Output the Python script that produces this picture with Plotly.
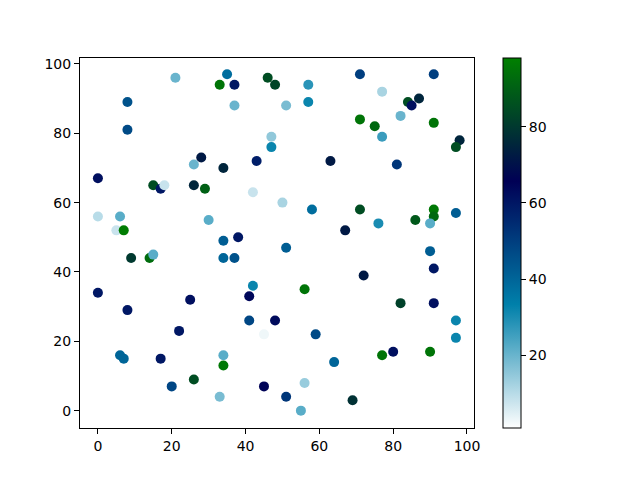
import plotly.graph_objects as go

# scatter points (x, y, colour value)
x_vals = [21, 35, 33, 37, 46, 48, 8, 37, 8, 47, 47, 28, 26, 34, 43, 0, 15, 17, 18, 26,
          29, 42, 50, 0, 6, 5, 7, 30, 34, 38, 57, 51, 57, 71, 91, 77, 84, 87, 85, 82,
          71, 75, 91, 77, 98, 97, 63, 81, 58, 71, 91, 91, 97, 86, 90, 76, 67, 51, 9, 14,
          15, 34, 37, 42, 0, 25, 41, 8, 41, 48, 22, 45, 6, 7, 17, 34, 34, 26, 20, 45,
          33, 90, 91, 72, 56, 82, 91, 97, 97, 59, 64, 77, 80, 90, 56, 51, 69, 55]
y_vals = [96, 97, 94, 94, 96, 94, 89, 88, 81, 79, 76, 73, 71, 70, 72, 67, 65, 64, 65, 65,
          64, 63, 60, 56, 56, 52, 52, 55, 49, 50, 94, 88, 89, 97, 97, 92, 89, 90, 88, 85,
          84, 82, 83, 79, 78, 76, 72, 71, 58, 58, 58, 56, 57, 55, 54, 54, 52, 47, 44, 44,
          45, 44, 44, 36, 34, 32, 33, 29, 26, 26, 23, 22, 16, 15, 15, 16, 13, 9, 7, 7,
          4, 46, 41, 39, 35, 31, 31, 26, 21, 22, 14, 16, 17, 17, 8, 4, 3, 0]
c_vals = [20, 38, 95, 60, 85, 83, 45, 20, 47, 15, 32, 72, 20, 75, 58, 62, 85, 60, 8, 75,
          90, 8, 12, 10, 22, 8, 97, 22, 42, 60, 28, 18, 32, 50, 50, 12, 85, 75, 62, 20,
          95, 92, 95, 26, 75, 85, 72, 52, 38, 85, 96, 92, 42, 88, 22, 30, 72, 42, 80, 93,
          22, 40, 45, 32, 60, 62, 64, 60, 48, 63, 60, 3, 40, 40, 60, 22, 96, 85, 48, 65,
          18, 42, 60, 72, 95, 82, 62, 32, 32, 47, 40, 95, 62, 95, 14, 52, 78, 22]

ticks = [0, 20, 40, 60, 80, 100]
cbar_ticks = [20, 40, 60, 80]


def ocean(s):
    r = min(max(3 * s - 2, 0), 1)
    g = min(abs((3 * s - 1) / 2), 1)
    b = s
    return f"rgb({round(r * 255)},{round(g * 255)},{round(b * 255)})"


# reversed 'ocean' colormap
n = 30
ocean_r = [[i / n, ocean(1 - i / n)] for i in range(n + 1)]

fig = go.Figure(
    go.Scatter(
        x=x_vals,
        y=y_vals,
        mode="markers",
        marker=dict(
            size=10,
            color=c_vals,
            colorscale=ocean_r,
            cmin=1,
            cmax=98,
            line=dict(width=0),
            colorbar=dict(
                x=1.073,
                xanchor="left",
                y=0.5,
                yanchor="middle",
                len=1,
                thickness=18,
                xpad=0,
                ypad=0,
                outlinecolor="black",
                outlinewidth=1,
                tickvals=cbar_ticks,
                ticks="outside",
                ticklen=5,
                tickcolor="black",
                tickfont=dict(size=14, color="black"),
            ),
        ),
        showlegend=False,
    )
)

axis_style = dict(
    showline=True,
    linecolor="black",
    linewidth=1,
    mirror=True,
    ticks="outside",
    ticklen=5,
    tickcolor="black",
    showgrid=False,
    zeroline=False,
    tickvals=ticks,
    tickfont=dict(size=14, color="black"),
)
fig.update_xaxes(range=[-4.85, 101.9], **axis_style)
fig.update_yaxes(range=[-5.0, 101.7], **axis_style)

# the page body adds an 8px offset, so margins are shifted to compensate
fig.update_layout(
    width=640,
    height=480,
    margin=dict(l=72, r=174, t=50, b=60),
    plot_bgcolor="white",
    paper_bgcolor="white",
    font=dict(family="DejaVu Sans", color="black"),
)

fig.write_html("out.html")
